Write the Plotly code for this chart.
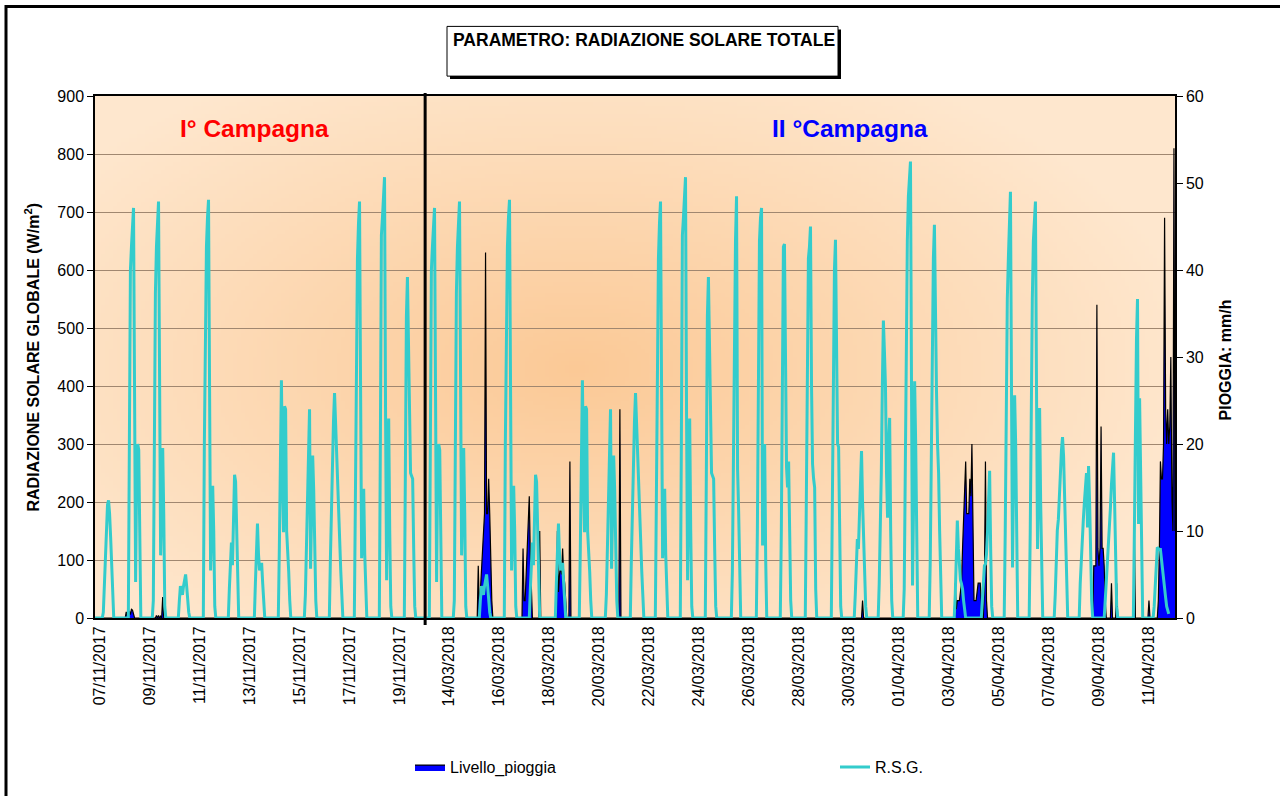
import base64
import struct
import zlib

import pandas as pd
import plotly.graph_objects as go

nov_start = "2017-11-07"
mar_start = "2018-03-13"
first_hour = 6  # every daily list of R.S.G. readings starts at 06:00

# R.S.G. (W/m2), hourly readings from 06:00, one list per day
rsg_nov = [
    [0, 0, 10, 60, 110, 160, 195, 203, 180, 140, 100, 40, 0],                    # 07/11
    [0, 0, 0, 300, 600, 640, 680, 707, 380, 62, 250, 300, 290, 80, 0],           # 08/11
    [0, 0, 30, 300, 560, 640, 690, 718, 420, 108, 200, 293, 180, 20, 0],         # 09/11
    [0, 0, 0, 30, 55, 45, 40, 55, 68, 75, 55, 30, 10, 0],                        # 10/11
    [0, 0, 0, 300, 560, 640, 690, 721, 400, 82, 160, 228, 150, 20, 0],           # 11/11
    [0, 0, 0, 50, 110, 130, 91, 180, 247, 235, 150, 60, 0],                      # 12/11
    [0, 0, 0, 0, 60, 130, 163, 110, 82, 90, 95, 60, 20, 0],                      # 13/11
    [0, 0, 0, 120, 300, 410, 250, 148, 365, 360, 150, 120, 80, 30, 0],           # 14/11
    [0, 0, 0, 0, 40, 120, 220, 330, 360, 85, 200, 280, 220, 120, 30, 0],         # 15/11
    [0, 0, 0, 0, 100, 200, 290, 340, 388, 330, 280, 230, 180, 130, 80, 40, 0],   # 16/11
    [0, 0, 0, 0, 200, 450, 620, 680, 718, 400, 103, 160, 223, 110, 40, 0],       # 17/11
    [0, 0, 0, 0, 300, 660, 690, 730, 760, 350, 65, 250, 344, 150, 20, 0],        # 18/11
    [0, 0, 0, 0, 250, 520, 588, 450, 320, 250, 245, 240, 120, 20, 0],            # 19/11
]

# 25/03 - 11/04
rsg_mar_new = [
    [0, 0, 0, 0, 0, 80, 300, 550, 650, 727, 256, 185, 60, 0],                    # 25/03
    [0, 0, 0, 0, 0, 150, 450, 650, 690, 707, 125, 250, 300, 100, 0],             # 26/03
    [0, 0, 0, 0, 150, 450, 640, 645, 400, 260, 225, 270, 150, 30, 0],            # 27/03
    [0, 0, 0, 0, 200, 500, 620, 640, 675, 400, 265, 240, 225, 50, 0],            # 28/03
    [0, 0, 0, 0, 0, 200, 450, 600, 652, 450, 300, 295, 150, 20, 0],              # 29/03
    [0, 0, 0, 40, 100, 136, 119, 180, 250, 288, 200, 140, 70, 20, 0],            # 30/03
    [0, 0, 60, 140, 250, 400, 513, 460, 400, 250, 173, 300, 345, 150, 30, 0],    # 31/03
    [0, 0, 50, 250, 500, 650, 727, 760, 787, 400, 56, 200, 408, 300, 80, 0],     # 01/04
    [0, 0, 0, 100, 300, 500, 620, 678, 500, 391, 300, 250, 150, 50, 0],          # 02/04
    [0, 0, 0, 40, 110, 168, 120, 80, 65, 59, 50, 30, 10, 0],                     # 03/04
    [0, 0, 0, 0, 0, 30, 60, 90, 93, 110, 150, 200, 254, 120, 20, 0],             # 04/04
    [0, 0, 0, 150, 400, 550, 620, 680, 735, 400, 87, 250, 384, 300, 100, 0],     # 05/04
    [0, 0, 0, 150, 400, 550, 650, 700, 718, 400, 119, 250, 362, 200, 60, 0],     # 06/04
    [0, 0, 0, 40, 100, 151, 170, 200, 250, 290, 312, 280, 200, 120, 50, 0],      # 07/04
    [0, 0, 0, 60, 105, 140, 170, 200, 230, 250, 156, 262, 200, 100, 30, 0],      # 08/04
    [0, 0, 0, 30, 60, 82, 110, 150, 190, 230, 260, 285, 200, 80, 20, 0],         # 09/04
    [0, 0, 0, 0, 0, 0, 0, 150, 350, 480, 550, 162, 379, 250, 60, 0],             # 10/04
    [0, 0, 20, 60, 100, 122, 120, 118, 118, 100, 80, 60, 48, 35, 20, 10, 7],     # 11/04
]

# in the source sheet 13/03-24/03 repeat the 08/11-19/11 readings
rsg_mar = rsg_nov[1:] + rsg_mar_new

# Livello_pioggia (mm/h): start of each rain episode and its hourly values
rain_start = [
    "2017-11-08 05:00", "2017-11-09 10:00",
    "2018-03-15 06:00", "2018-03-17 01:00", "2018-03-17 17:00", "2018-03-18 10:00",
    "2018-03-20 22:00", "2018-03-30 15:00", "2018-04-03 08:00", "2018-04-08 21:00",
    "2018-04-10 12:00", "2018-04-11 02:00", "2018-04-11 11:00",
]
rain_mm = [
    [0, 0.7, 0.2, 0.3, 0.8, 0.4, 1.0, 0.9, 0.3, 0],
    [0, 0.3, 0, 0.3, 0, 0.2, 0, 2.4, 0],
    [0, 6, 1, 3, 5, 7, 9, 12, 42, 12, 12, 16, 12, 6, 2, 0],
    [0, 8, 2, 2, 5, 8, 11, 14, 7, 3, 0],
    [0, 10, 0],
    [0, 10, 3, 5, 6, 5, 8, 5, 4, 2, 0, 0, 0, 18, 0],
    [0, 24, 0],
    [0, 2, 0],
    [0, 4, 1, 2, 2, 2, 3, 4, 8, 12, 14, 18, 12, 12, 12, 16, 14, 20, 8, 2, 2, 2, 3,
     4, 4, 4, 2, 0, 0, 4, 18, 2, 0],
    [0, 6, 6, 6, 36, 8, 6, 8, 22, 8, 8, 6, 2, 0, 0, 0, 0, 0, 4, 0, 0, 0, 0, 4, 0],
    [0, 10, 0],
    [0, 2, 0],
    [0, 2, 8, 18, 16, 16, 20, 46, 24, 20, 24, 20, 22, 30, 14, 10, 54, 10],
]

# campaign limits (hourly records)
nov_end = "2017-11-20 05:00"
mar_first = "2018-03-13 04:00"
mar_end = "2018-04-12 04:00"

# labelled records: every 48th row of the sheet
tick_dates = (
    list(pd.date_range("2017-11-07 05:00", "2017-11-19 05:00", freq="2D"))
    + list(pd.date_range("2018-03-14 03:00", "2018-04-11 03:00", freq="2D"))
)

FONT = "Liberation Sans, Arial, sans-serif"


def daily_series(start, days):
    t0 = pd.Timestamp(start)
    xs, ys = [], []
    for k, vals in enumerate(days):
        for i, v in enumerate(vals):
            xs.append(t0 + pd.Timedelta(days=k, hours=first_hour + i))
            ys.append(v)
    return xs, ys


def event_series(starts, values):
    xs, ys = [pd.Timestamp(nov_start)], [0]
    for s, vals in zip(starts, values):
        t0 = pd.Timestamp(s)
        for i, v in enumerate(vals):
            xs.append(t0 + pd.Timedelta(hours=i))
            ys.append(v)
    return xs, ys


def gradient_png(w, h, cx, cy, rx, ry, inner, outer):
    raw = bytearray()
    for j in range(h):
        raw.append(0)
        for i in range(w):
            d = min(1.0, (((i - cx) / rx) ** 2 + ((j - cy) / ry) ** 2) ** 0.5)
            for a, b in zip(inner, outer):
                raw.append(int(round(a + (b - a) * d)))

    def chunk(tag, data):
        body = tag + data
        return struct.pack(">I", len(data)) + body + struct.pack(">I", zlib.crc32(body) & 0xFFFFFFFF)

    png = (b"\x89PNG\r\n\x1a\n"
           + chunk(b"IHDR", struct.pack(">IIBBBBB", w, h, 8, 2, 0, 0, 0))
           + chunk(b"IDAT", zlib.compress(bytes(raw), 9))
           + chunk(b"IEND", b""))
    return "data:image/png;base64," + base64.b64encode(png).decode()


nx, ny = daily_series(nov_start, rsg_nov)
mx, my = daily_series(mar_start, rsg_mar)
rsg_x = [pd.Timestamp(nov_start)] + nx + mx
rsg_y = [0] + ny + my
rain_x, rain_y = event_series(rain_start, rain_mm)

fig = go.Figure()
fig.add_trace(go.Scatter(
    x=rain_x, y=rain_y, name="Livello_pioggia", mode="lines",
    line=dict(color="black", width=1.2), fill="tozeroy", fillcolor="#0000FF",
    yaxis="y",
))
fig.add_trace(go.Scatter(
    x=rsg_x, y=rsg_y, name="R.S.G.", mode="lines",
    line=dict(color="#33CCCC", width=3), yaxis="y2",
))

px = lambda v: (v - 95) / 1080
py = lambda v: (621 - v) / 525


def label(text, x, y, size, color="black", angle=0):
    return dict(text=text, xref="paper", yref="paper", x=px(x), y=py(y),
                xanchor="center", yanchor="middle", textangle=angle, showarrow=False,
                font=dict(size=size, color=color))


fig.update_layout(
    width=1280, height=796,
    margin=dict(l=95, r=105, t=96, b=175),
    paper_bgcolor="white", plot_bgcolor="rgba(0,0,0,0)",
    font=dict(family=FONT, size=16, color="black"),
    hovermode=False,
    xaxis=dict(
        type="date", range=[nov_start, mar_end],
        rangebreaks=[dict(bounds=[nov_end, mar_first])],
        tickvals=tick_dates, tickformat="%d/%m/%Y", tickangle=-90,
        tickfont=dict(size=16), showgrid=False,
        showline=True, linecolor="black", linewidth=2, mirror=True,
        ticks="", zeroline=False,
    ),
    yaxis=dict(
        side="right", range=[0, 60], dtick=10, showgrid=False, zeroline=False,
        showline=True, linecolor="black", linewidth=1.5,
        ticks="outside", ticklen=6, tickcolor="black", tickfont=dict(size=16),
    ),
    yaxis2=dict(
        overlaying="y", side="left", range=[0, 900], dtick=100,
        showgrid=True, gridcolor="rgb(160,135,112)", gridwidth=1, zeroline=False,
        showline=True, linecolor="black", linewidth=1.5,
        ticks="outside", ticklen=6, tickcolor="black", tickfont=dict(size=16),
    ),
    legend=dict(
        orientation="h", x=px(410), y=py(771), xanchor="left", yanchor="middle",
        entrywidth=380, entrywidthmode="pixels", font=dict(size=16),
        bgcolor="rgba(0,0,0,0)",
    ),
    images=[dict(
        source=gradient_png(270, 131, 120, 68, 155, 85, (251, 201, 150), (254, 231, 206)),
        xref="paper", yref="paper", x=0, y=1, sizex=1, sizey=1,
        sizing="stretch", layer="below",
    )],
    shapes=[
        dict(type="rect", xref="paper", yref="paper", x0=px(6), x1=1.5, y0=-1, y1=py(6),
             line=dict(color="black", width=3)),
        dict(type="rect", xref="paper", yref="paper", x0=px(450), x1=px(841), y0=py(79), y1=py(29),
             fillcolor="black", line=dict(width=0)),
        dict(type="rect", xref="paper", yref="paper", x0=px(447), x1=px(838), y0=py(76), y1=py(26),
             fillcolor="white", line=dict(color="black", width=1)),
        dict(type="line", xref="x", yref="paper", x0=mar_first, x1=mar_first,
             y0=py(628), y1=py(93), line=dict(color="black", width=3)),
    ],
    annotations=[
        dict(text="<b>PARAMETRO: RADIAZIONE SOLARE TOTALE</b>", xref="paper", yref="paper",
             x=px(451), y=py(40), xanchor="left", yanchor="middle", showarrow=False,
             font=dict(size=17.5)),
        label("<b>I° Campagna</b>", 254, 129, 24.5, "#FF0000"),
        label("<b>II °Campagna</b>", 850, 129, 24.5, "#0000FF"),
        label("<b>RADIAZIONE SOLARE GLOBALE (W/m<sup>2</sup>)</b>", 33, 359, 16, angle=-90),
        label("<b>PIOGGIA: mm/h</b>", 1225, 362, 16, angle=-90),
    ],
)

fig.write_html(
    "out.html",
    config={"displayModeBar": False},
    post_script="document.body.style.margin='0';document.body.style.overflow='hidden';",
)
